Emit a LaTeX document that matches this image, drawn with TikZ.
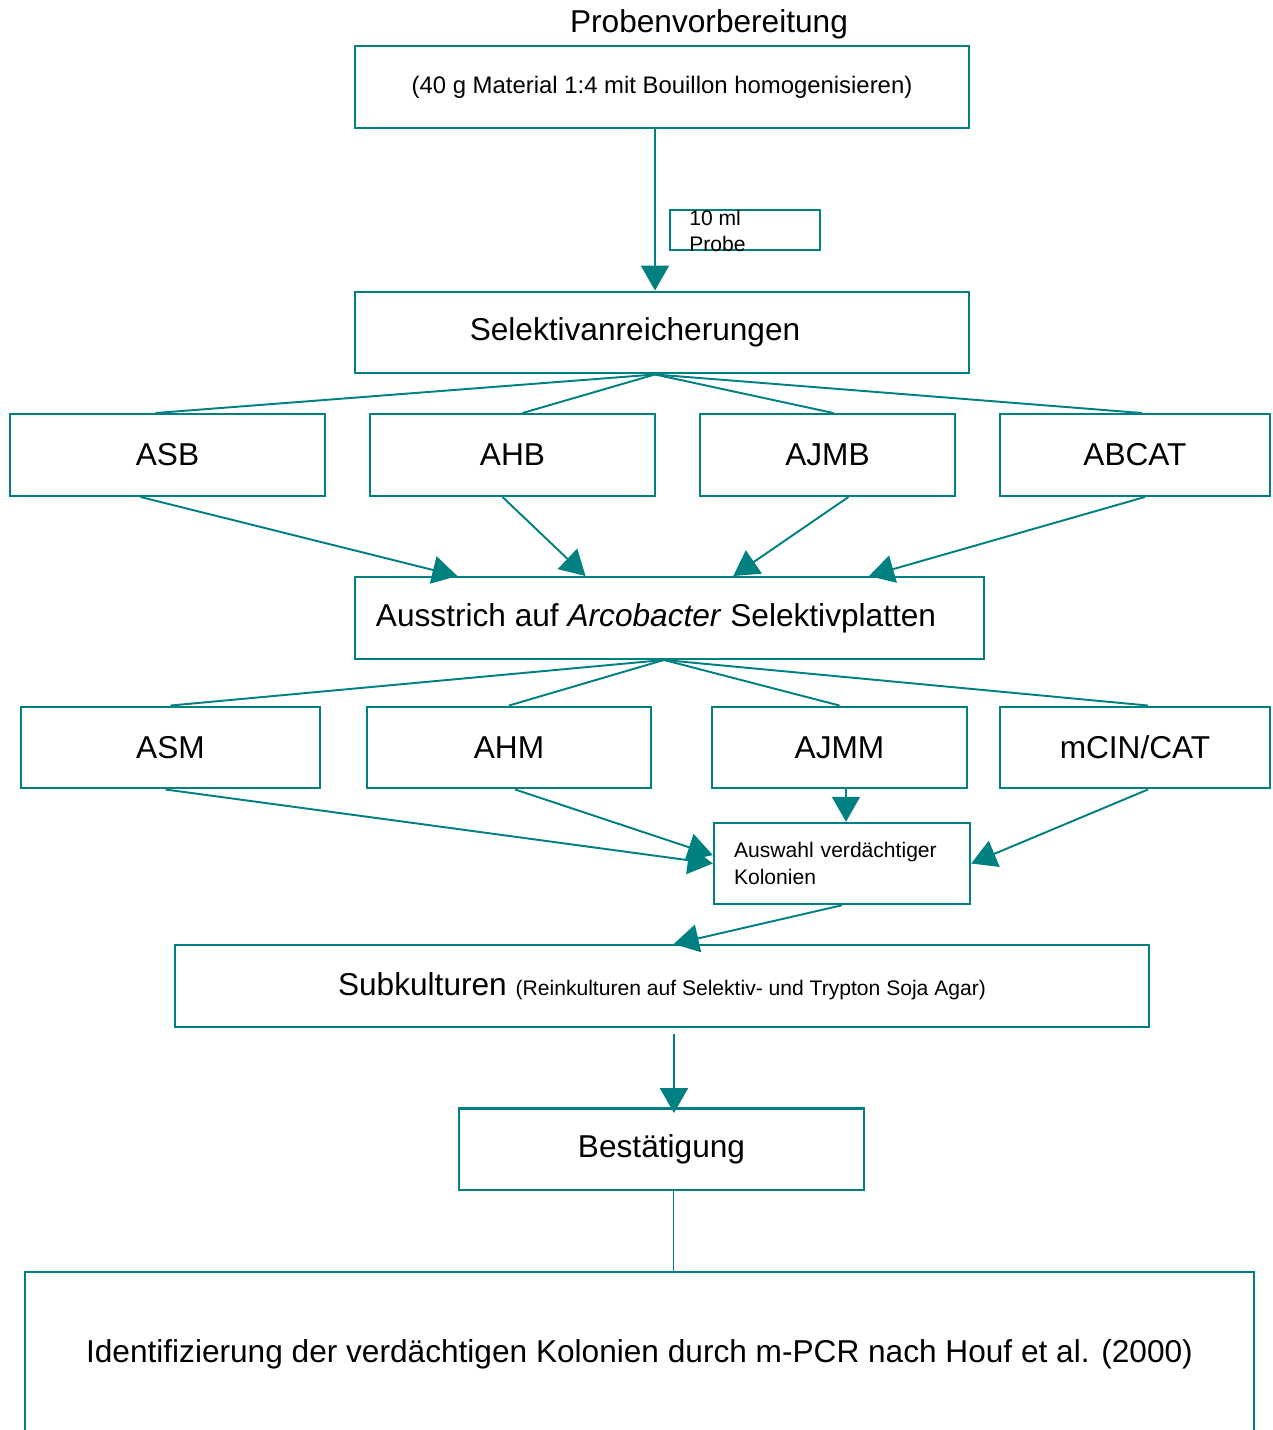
\documentclass[tikz,border=0pt]{standalone}
\usepackage{fontspec}
\setmainfont{Liberation Sans}
\usetikzlibrary{arrows.meta,calc}

\definecolor{petrol}{RGB}{0,128,128}

\tikzset{
  big/.style={font=\fontsize{18}{21}\selectfont},
  mid/.style={font=\fontsize{13.6}{16}\selectfont},
  small/.style={font=\fontsize{12}{14.5}\selectfont},
  box/.style={draw=petrol, line width=1.4pt, inner sep=0pt, minimum height=1.63cm, big},
  flow/.style={draw=petrol, line width=1.1pt, -{Triangle[length=0.5cm, width=0.56cm]}},
  link/.style={draw=petrol, line width=1.1pt},
}

\begin{document}
\begin{tikzpicture}[x=0.02cm, y=-0.02cm]
  \useasboundingbox (0,0) rectangle (1273,1430);

  % sample preparation
  \node[big] (titel) at (709,24) {Probenvorbereitung};
  \node[box, mid, minimum width=12.28cm] (prep) at (662,87) {(40 g Material 1:4 mit Bouillon homogenisieren)};
  \node[draw=petrol, line width=1.1pt, minimum width=3cm, minimum height=0.8cm] (menge) at (745,230) {};
  \node[small, align=left, anchor=north west, inner sep=0pt] (mengetxt) at (689,210) {10 ml\\Probe};

  % enrichment
  \node[box, minimum width=12.28cm] (selekt) at (662,332.5) {Selektivanreicherungen\hspace*{1.08cm}};
  \node[box, minimum width=6.3cm] (asb) at (167.5,455) {ASB};
  \node[box, minimum width=5.7cm] (ahb) at (512.5,455) {AHB};
  \node[box, minimum width=5.1cm] (ajmb) at (827.5,455) {AJMB};
  \node[box, minimum width=5.4cm] (abcat) at (1135,455) {ABCAT};

  % plating
  \node[box, minimum width=12.58cm] (ausstrich) at (669.5,618) {Ausstrich auf \textit{Arcobacter} Selektivplatten\hspace*{0.54cm}};
  \node[box, minimum width=5.98cm] (asm) at (170.5,747.5) {ASM};
  \node[box, minimum width=5.68cm] (ahm) at (509,747.5) {AHM};
  \node[box, minimum width=5.1cm] (ajmm) at (839.5,747.5) {AJMM};
  \node[box, minimum width=5.4cm] (mcin) at (1135,747.5) {mCIN/CAT};

  % selection and confirmation
  \node[box, font=\fontsize{12}{15}\selectfont, inner xsep=0.4cm, text width=4.32cm, align=left, minimum height=1.62cm] (auswahl) at (842,863.5) {Auswahl verdächtiger\\Kolonien};
  \node[box, minimum width=19.48cm] (subk) at (662,986) {Subkulturen {\fontsize{12}{14}\selectfont (Reinkulturen auf Selektiv- und Trypton Soja Agar)}};
  \node[box, minimum width=8.1cm] (best) at (661.5,1149) {Bestätigung};
  \node[box, minimum width=24.58cm, minimum height=3.28cm] (ident) at (639.5,1354) {Identifizierung der verdächtigen Kolonien durch m-PCR nach Houf et al. (2000)};

  % connectors
  \draw[flow] ([xshift=-0.14cm]prep.south) -- ([xshift=-0.14cm]selekt.north);

  \draw[link] ([xshift=-0.14cm]selekt.south) -- ([xshift=-0.24cm]asb.north);
  \draw[link] ([xshift=-0.14cm]selekt.south) -- ([xshift=0.2cm]ahb.north);
  \draw[link] ([xshift=-0.14cm]selekt.south) -- ([xshift=0.12cm]ajmb.north);
  \draw[link] ([xshift=-0.14cm]selekt.south) -- ([xshift=0.14cm]abcat.north);

  \draw[flow] ([xshift=-0.54cm]asb.south) -- ($(ausstrich.north west)!0.164!(ausstrich.north east)$);
  \draw[flow] ([xshift=-0.2cm]ahb.south) -- ($(ausstrich.north west)!0.367!(ausstrich.north east)$);
  \draw[flow] ([xshift=0.42cm]ajmb.south) -- ($(ausstrich.north west)!0.601!(ausstrich.north east)$);
  \draw[flow] ([xshift=0.2cm]abcat.south) -- ($(ausstrich.north west)!0.816!(ausstrich.north east)$);

  \draw[link] ([xshift=-0.11cm]ausstrich.south) -- (asm.north);
  \draw[link] ([xshift=-0.11cm]ausstrich.south) -- (ahm.north);
  \draw[link] ([xshift=-0.11cm]ausstrich.south) -- (ajmm.north);
  \draw[link] ([xshift=-0.11cm]ausstrich.south) -- ([xshift=0.26cm]mcin.north);

  \draw[flow] ([xshift=-0.1cm]asm.south) -- (auswahl.west);
  \draw[flow] ([xshift=0.12cm]ahm.south) -- ($(auswahl.north west)!0.4!(auswahl.south west)$);
  \draw[flow] ([xshift=0.13cm]ajmm.south) -- ([xshift=0.13cm]ajmm.south |- auswahl.north);
  \draw[flow] ([xshift=0.26cm]mcin.south) -- (auswahl.east);

  \draw[flow] (auswahl.south) -- ($(subk.north west)!0.512!(subk.north east)$);
  \draw[flow] ([xshift=0.24cm, yshift=-0.12cm]subk.south) -- ([xshift=0.24cm, yshift=-0.12cm]subk.south |- best.north);
  \draw[link] ([xshift=0.24cm]best.south) -- ([xshift=0.24cm]best.south |- ident.north);

\end{tikzpicture}
\end{document}
